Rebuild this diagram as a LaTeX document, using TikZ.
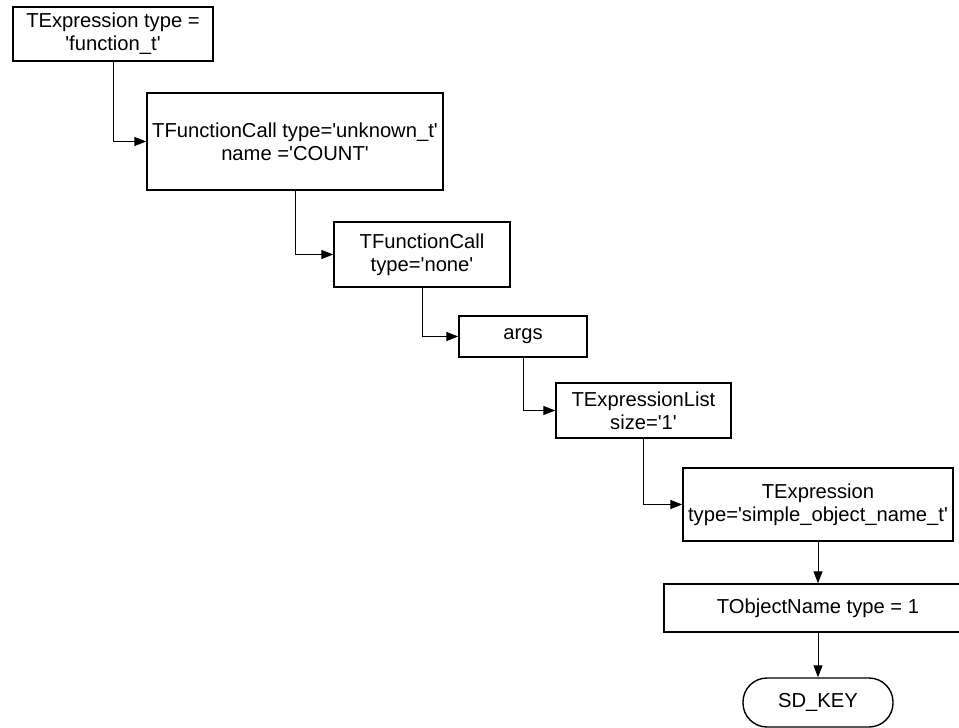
\documentclass[tikz,border=0pt]{standalone}
\usepackage{fontspec}
\setmainfont{Liberation Sans}[Ligatures=TeXOff]
\usetikzlibrary{arrows.meta}
\begin{document}
\begin{tikzpicture}[x=1pt,y=-1pt,
  box/.style={draw, line width=1.4pt, inner sep=0pt, align=center,
    font=\fontsize{20.2}{23}\selectfont},
  endbox/.style={box, rounded corners=24pt},
  link/.style={line width=1pt, -{Triangle[length=12pt,width=9pt]}}]
\useasboundingbox (0,0) rectangle (959,728);
\clip (0,0) rectangle (959,728);
\fill[white] (0,0) rectangle (959,728);

\node[box, minimum width=200pt, minimum height=54pt] (expr) at (113,34)
  {TExpression type =\\'function\_t'};
\node[box, minimum width=296pt, minimum height=97pt] (call) at (295,141.5)
  {TFunctionCall type='unknown\_t'\\name ='COUNT'};
\node[box, minimum width=176pt, minimum height=65pt] (callnone) at (422,254.5)
  {TFunctionCall\\type='none'};
\node[box, minimum width=128pt, minimum height=41pt] (args) at (523,336.5)
  {args};
\node[box, minimum width=175pt, minimum height=55pt] (list) at (643.5,410.5)
  {TExpressionList\\size='1'};
\node[box, minimum width=270pt, minimum height=73pt] (simple) at (818,504.5)
  {TExpression\\type='simple\_object\_name\_t'};
\node[box, minimum width=308pt, minimum height=48pt] (objname) at (818,608)
  {TObjectName type = 1};
\node[endbox, minimum width=150pt, minimum height=49pt] (key) at (818,702.5)
  {SD\_KEY};

\draw[link] (expr.south) |- (call.west);
\draw[link] (call.south) |- (callnone.west);
\draw[link] (callnone.south) |- (args.west);
\draw[link] (args.south) |- (list.west);
\draw[link] (list.south) |- (simple.west);
\draw[link] (simple.south) -- (objname.north);
\draw[link] (objname.south) -- (key.north);
\end{tikzpicture}
\end{document}
